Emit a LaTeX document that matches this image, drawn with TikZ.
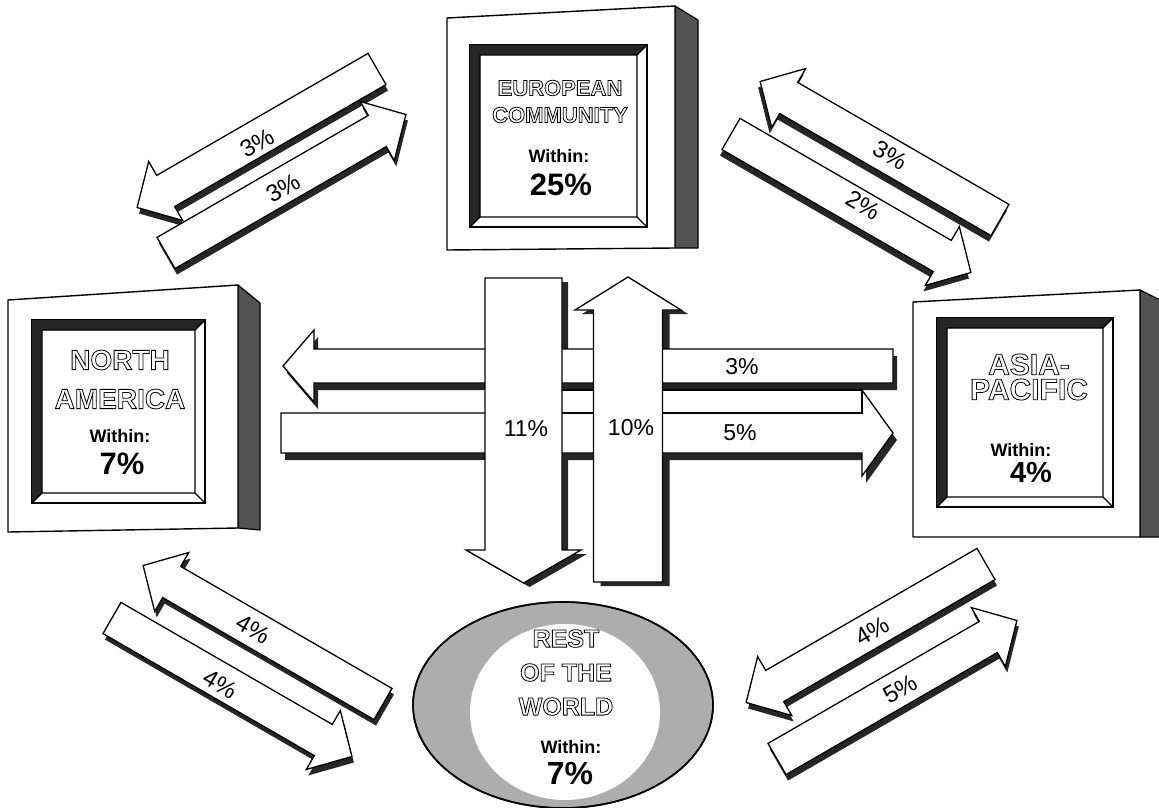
\documentclass[tikz,border=0pt]{standalone}
\usepackage{fontspec}
\setmainfont{Liberation Sans}
\usepackage{tikz}

% hollow (outlined) capitals for the region names
\newcommand{\hollow}[1]{{\bfseries\special{pdf:literal direct 1 Tr 0.8 w}#1\special{pdf:literal direct 0 Tr}}}
% flat block arrow: style, tail x, tail y, angle, length, half shaft, half head, head length
\newcommand{\fatarrow}[8]{%
  \path[#1, shift={(#2,#3)}, rotate=#4]
    (0,-#6) -- (#5-#8,-#6) -- (#5-#8,-#7) -- (#5,0) -- (#5-#8,#7) -- (#5-#8,#6) -- (0,#6) -- cycle;}
% picture-frame bevel inside a region box
\newcommand{\bevelframe}[4]{%
  \draw[frameline, fill=white] (#1,#2) rectangle (#3,#4);
  \fill[black!85] (#1,#2) -- (#3,#2) -- (#3-10,#2+10) -- (#1+10,#2+10) -- (#1+10,#4-10) -- (#1,#4) -- cycle;
  \draw[frameline] (#1+10,#2+10) rectangle (#3-10,#4-10)
    (#3,#4) -- (#3-10,#4-10) (#3,#2) -- (#3-10,#2+10) (#1,#4) -- (#1+10,#4-10);}

\begin{document}
\begin{tikzpicture}[x=1pt, y=-1pt,
  face/.style={draw=black, line width=1.4pt, fill=white, line join=round},
  sideface/.style={draw=black, line width=1.2pt, fill=black!68, line join=round},
  frameline/.style={draw=black, line width=1.1pt},
  flow/.style={draw=black, line width=1.3pt, fill=white, line join=miter},
  flowshade/.style={fill=black!85},
  region/.style={align=center, inner sep=0pt},
  within/.style={font=\fontsize{18}{20}\selectfont\bfseries, inner sep=0pt},
  share/.style={font=\fontsize{31}{33}\selectfont\bfseries, inner sep=0pt},
  pct/.style={font=\fontsize{24}{26}\selectfont, inner sep=0pt},
]
\useasboundingbox (0,0) rectangle (1159,808);

%% -- European Community --
\draw[sideface] (675,6) -- (698,20) -- (698,248) -- (675,248) -- cycle;
\draw[face] (447,18) -- (675,6) -- (675,248) -- (447,250) -- cycle;
\bevelframe{470}{45}{647}{227}
\node[region, font=\fontsize{22}{27}\selectfont] (ec) at (560,101.5)
  {\hollow{EUROPEAN}\\\hollow{COMMUNITY}};
\node[within] (ecwithin) at (559,156) {Within:};
\node[share] (ecshare) at (561,185) {25\%};

%% -- North America --
\draw[sideface] (238,285) -- (260,303) -- (260,530) -- (238,528) -- cycle;
\draw[face] (8,300) -- (238,285) -- (238,528) -- (8,532) -- cycle;
\bevelframe{32}{320}{205}{503}
\node[region, font=\fontsize{28}{39}\selectfont] (na) at (120,379.5)
  {\hollow{NORTH}\\\hollow{AMERICA}};
\node[within] (nawithin) at (120,436) {Within:};
\node[share] (nashare) at (122,464) {7\%};

%% -- Asia-Pacific --
\draw[sideface] (1140,290) -- (1164,302) -- (1164,537) -- (1140,537) -- cycle;
\draw[face] (913,302) -- (1140,290) -- (1140,537) -- (913,537) -- cycle;
\bevelframe{937}{318}{1113}{507}
\node[region, font=\fontsize{30}{25}\selectfont] (ap) at (1029,377)
  {\hollow{ASIA-}\\\hollow{PACIFIC}};
\node[within] (apwithin) at (1021,450) {Within:};
\node[share, font=\fontsize{29}{31}\selectfont\bfseries] (apshare) at (1031,473) {4\%};

%% -- Rest of the World --
\draw[line width=1.6pt, fill=black!32] (563,705) ellipse [x radius=150, y radius=103];
\begin{scope}
  \clip (563,705) ellipse [x radius=150, y radius=103];
  \fill[white] (565,712) ellipse [x radius=95, y radius=88];
\end{scope}
\draw[line width=1.6pt] (563,705) ellipse [x radius=150, y radius=103];
\node[region, font=\fontsize{25}{34}\selectfont] (row) at (566,672.5)
  {\hollow{REST}\\\hollow{OF THE}\\\hollow{WORLD}};
\node[within] (rowwithin) at (571,747) {Within:};
\node[share, font=\fontsize{32}{34}\selectfont\bfseries] (rowshare) at (570,773) {7\%};

%% -- Diagonal flows --
% EC <-> NA
\fatarrow{flowshade, xshift=2pt, yshift=-6pt}{377}{69}{210}{277}{18}{34}{33}
\fatarrow{flow}{377}{69}{210}{277}{18}{34}{33}
\fatarrow{flowshade, xshift=2pt, yshift=-6pt}{166}{253}{30}{277}{18}{34}{33}
\fatarrow{flow}{166}{253}{30}{277}{18}{34}{33}
% EC <-> AP
\fatarrow{flowshade, xshift=-2pt, yshift=-6pt}{1000}{220}{150}{277}{18}{34}{33}
\fatarrow{flow}{1000}{220}{150}{277}{18}{34}{33}
\fatarrow{flowshade, xshift=-2pt, yshift=-6pt}{731}{134}{-30}{277}{18}{34}{33}
\fatarrow{flow}{731}{134}{-30}{277}{18}{34}{33}
% NA <-> RoW
\fatarrow{flowshade, xshift=2pt, yshift=-6pt}{383}{704}{150}{277}{18}{34}{33}
\fatarrow{flow}{383}{704}{150}{277}{18}{34}{33}
\fatarrow{flowshade, xshift=2pt, yshift=-6pt}{112}{618}{-30}{277}{18}{34}{33}
\fatarrow{flow}{112}{618}{-30}{277}{18}{34}{33}
% RoW <-> AP
\fatarrow{flowshade, xshift=2pt, yshift=-6pt}{986}{564}{210}{277}{18}{34}{33}
\fatarrow{flow}{986}{564}{210}{277}{18}{34}{33}
\fatarrow{flowshade, xshift=2pt, yshift=-6pt}{777}{759}{30}{277}{18}{34}{33}
\fatarrow{flow}{777}{759}{30}{277}{18}{34}{33}

%% -- Central flows --
\fatarrow{flowshade, xshift=6pt, yshift=-4pt}{523.5}{278}{-90}{305}{38.5}{57.5}{33}
\fatarrow{flowshade, xshift=7pt, yshift=-4pt}{628}{582}{90}{305}{34.5}{53}{33}
\fatarrow{flowshade, xshift=4pt, yshift=-7pt}{893}{366}{180}{610}{17}{36}{31}
\fatarrow{flowshade, xshift=4pt, yshift=-7pt}{281}{433}{0}{612}{20}{43}{31}
\fatarrow{flow}{893}{366}{180}{610}{17}{36}{31}
\fatarrow{flow}{281}{433}{0}{612}{20}{43}{31}
\draw[flow] (540,390) rectangle (862,413);
\fatarrow{flow}{523.5}{278}{-90}{305}{38.5}{57.5}{33}
\fatarrow{flow}{628}{582}{90}{305}{34.5}{53}{33}

%% -- Flow labels --
\node[pct, rotate=30]  (ec2na)  at (257,143) {3\%};
\node[pct, rotate=30]  (na2ec)  at (283,188) {3\%};
\node[pct, rotate=-30] (ap2ec)  at (890,155) {3\%};
\node[pct, rotate=-30] (ec2ap)  at (863,205) {2\%};
\node[pct, rotate=-30] (row2na) at (253,629) {4\%};
\node[pct, rotate=-30] (na2row) at (220,684) {4\%};
\node[pct, rotate=30]  (ap2row) at (872,631) {4\%};
\node[pct, rotate=30]  (row2ap) at (900,689) {5\%};
\node[pct, font=\fontsize{23}{25}\selectfont] (ec2row) at (526,429) {11\%};
\node[pct, font=\fontsize{23}{25}\selectfont] (row2ec) at (631,428) {10\%};
\node[pct, font=\fontsize{23}{25}\selectfont] (ap2na)  at (742,367) {3\%};
\node[pct, font=\fontsize{23}{25}\selectfont] (na2ap)  at (740,433) {5\%};
\end{tikzpicture}
\end{document}
